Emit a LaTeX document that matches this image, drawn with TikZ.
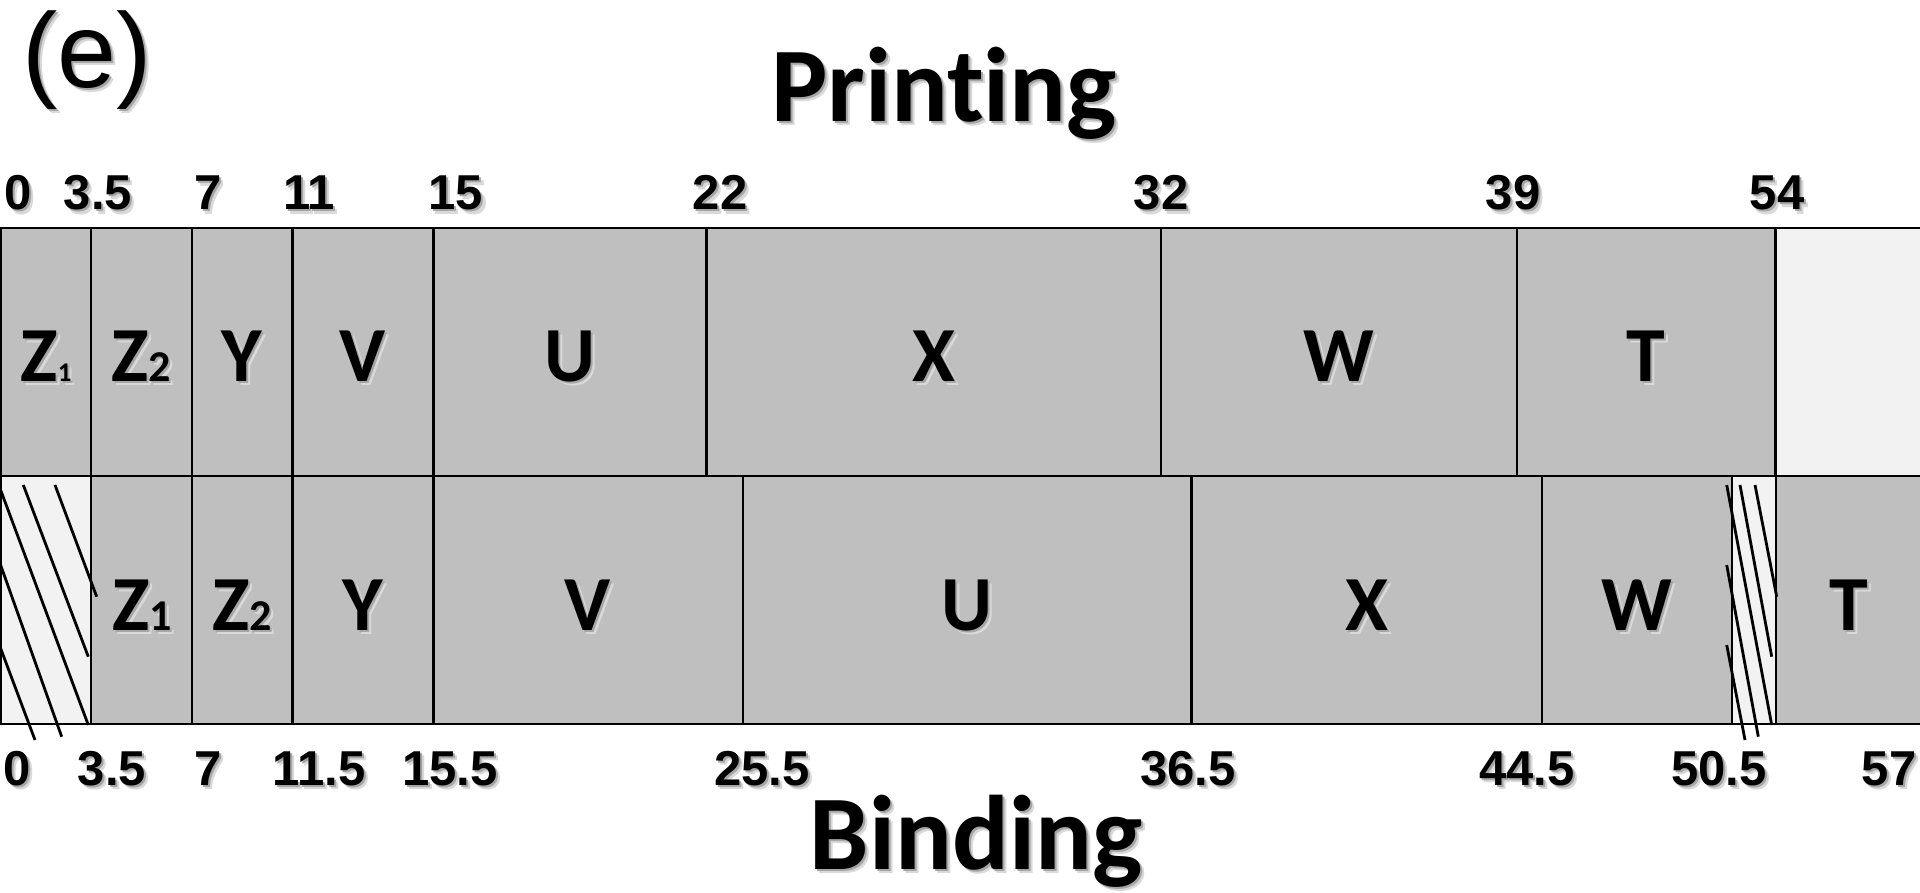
\documentclass[tikz,border=0pt]{standalone}
\usepackage{fontspec}
\setmainfont{Liberation Sans}
\newfontfamily\calfont{Carlito}[Ligatures={NoCommon,NoContextual}]
\definecolor{cellgray}{HTML}{BFBFBF}
\definecolor{cellpale}{HTML}{F2F2F2}
\tikzset{
  gridline/.style={line width=1.1pt, draw=black},
  frameline/.style={line width=1.3pt, draw=black},
  hatchline/.style={line width=1.4pt, draw=black},
  num/.style={anchor=base, inner sep=0pt, font=\bfseries\fontsize{24.5}{28}\selectfont},
  letter/.style={anchor=base, inner sep=0pt, font=\calfont\bfseries\fontsize{39}{44}\selectfont},
  title/.style={anchor=base, inner sep=0pt, font=\calfont\bfseries\fontsize{53}{60}\selectfont},
  panel/.style={anchor=base west, inner sep=0pt, font=\fontsize{53}{60}\selectfont},
}
\newcommand\zsmall[1]{{\fontsize{13.5}{15}\selectfont #1}}
\newcommand\zbig[1]{{\fontsize{22}{25}\selectfont #1}}
\newcommand\shtxt[4]{%
  \node[#1, text=black!15] at ([shift={(2pt,-2pt)}]#3) {#4};
  \node[#1, text=black!35] at ([shift={(1pt,-1pt)}]#3) {#4};
  \node[#1] (#2) at (#3) {#4};
}
\begin{document}
\begin{tikzpicture}[x=0.5pt, y=-0.5pt]
\useasboundingbox (0,0) rectangle (1920,893);
\begin{scope}
\clip (0,0) rectangle (1920,893);
% fills
\fill[cellgray] (0,228) rectangle (1775.5,476);
\fill[cellpale] (1775.5,228) rectangle (1925,476);
\fill[cellpale] (0,476) rectangle (90.6,724);
\fill[cellgray] (90.6,476) rectangle (1731.7,724);
\fill[cellpale] (1731.7,476) rectangle (1776,724);
\fill[cellgray] (1776,476) rectangle (1925,724);
% hatching (idle slots)
\draw[hatchline] (55,485) -- (96.7,596.7);
\draw[hatchline] (23.3,485) -- (88.3,656.7);
\draw[hatchline] (-2,483) -- (88.3,725);
\draw[hatchline] (0,563.3) -- (61.7,736.7);
\draw[hatchline] (0,646.7) -- (35,740);
\draw[hatchline] (1755,485) -- (1776.7,596.7);
\draw[hatchline] (1740,485) -- (1771.7,656.7);
\draw[hatchline] (1726.7,485) -- (1771.7,725);
\draw[hatchline] (1726.7,565) -- (1758.3,736.7);
\draw[hatchline] (1726.7,645) -- (1745,740);
% grid lines
\foreach \x in {90.6,192,292.5,433.5,706.5,1161,1517,1775.5}
  \draw[gridline] (\x,228) -- (\x,476);
\foreach \x in {90.6,192,292.5,433.5,743,1191.5,1541.6,1731.7,1776}
  \draw[gridline] (\x,476) -- (\x,724);
\draw[gridline] (0.5,228) -- (0.5,724);
\draw[frameline] (0,228) -- (1925,228);
\draw[frameline] (0,476) -- (1925,476);
\draw[frameline] (0,724) -- (1925,724);
\end{scope}
% panel label and titles
\shtxt{panel}{lbl}{22,88}{(e)}
\shtxt{title}{printing}{944,122}{Print\kern0pt ing}
\shtxt{title}{binding}{976,869}{Binding}
% top scale
\shtxt{num}{t0}{18.5,210}{0}
\shtxt{num}{t1}{98,210}{3.5}
\shtxt{num}{t2}{208.5,210}{7}
\shtxt{num}{t3}{309,210}{11}
\shtxt{num}{t4}{456,210}{15}
\shtxt{num}{t5}{720,210}{22}
\shtxt{num}{t6}{1161,210}{32}
\shtxt{num}{t7}{1513,210}{39}
\shtxt{num}{t8}{1777,210}{54}
% bottom scale
\shtxt{num}{b0}{17,785}{0}
\shtxt{num}{b1}{112,785}{3.5}
\shtxt{num}{b2}{208,785}{7}
\shtxt{num}{b3}{319,785}{11.5}
\shtxt{num}{b4}{450,785}{15.5}
\shtxt{num}{b5}{762,785}{25.5}
\shtxt{num}{b6}{1188,785}{36.5}
\shtxt{num}{b7}{1527,785}{44.5}
\shtxt{num}{b8}{1719,785}{50.5}
\shtxt{num}{b9}{1889,785}{57}
% printing row letters
\shtxt{letter}{pz1}{46,381}{Z\zsmall{1}}
\shtxt{letter}{pz2}{141,381}{Z\zbig{2}}
\shtxt{letter}{py}{242,381}{Y}
\shtxt{letter}{pv}{363,381}{V}
\shtxt{letter}{pu}{570,381}{U}
\shtxt{letter}{px}{934,381}{X}
\shtxt{letter}{pw}{1339,381}{W}
\shtxt{letter}{pt}{1646,381}{T}
% binding row letters
\shtxt{letter}{bz1}{142,630}{Z\zbig{1}}
\shtxt{letter}{bz2}{242,630}{Z\zbig{2}}
\shtxt{letter}{by}{363,630}{Y}
\shtxt{letter}{bv}{588,630}{V}
\shtxt{letter}{bu}{967,630}{U}
\shtxt{letter}{bx}{1366.5,630}{X}
\shtxt{letter}{bw}{1636.6,630}{W}
\shtxt{letter}{bt}{1849,630}{T}
\end{tikzpicture}
\end{document}
